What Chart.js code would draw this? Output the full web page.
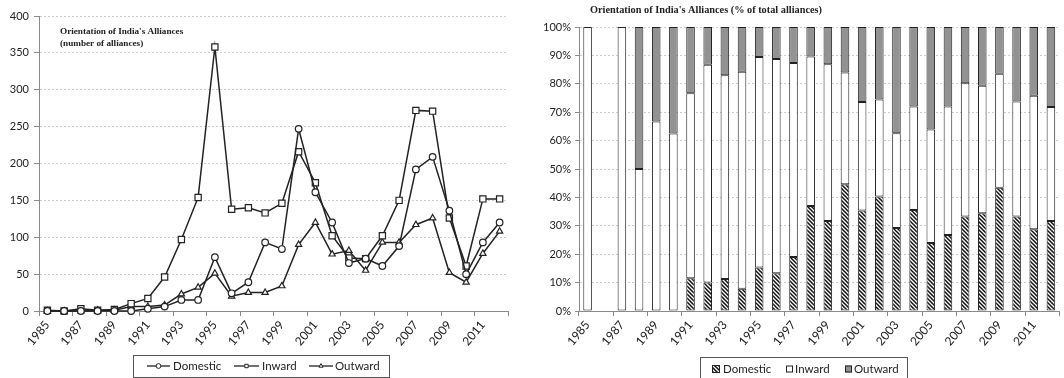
<!DOCTYPE html>
<html>
<head>
<meta charset="utf-8">
<script src="https://cdn.jsdelivr.net/npm/chart.js@4/dist/chart.umd.min.js"></script>
<style>
  html, body { margin: 0; padding: 0; background: #fff; }
  #wrap { position: relative; width: 1064px; height: 378px; overflow: hidden; }
  #c1 { position: absolute; left: 0; top: 0; }
  #c2 { position: absolute; left: 525px; top: 0; }
</style>
</head>
<body>
<div id="wrap">
  <canvas id="c1" width="520" height="378"></canvas>
  <canvas id="c2" width="539" height="378"></canvas>
</div>
<script>
// ---- data ----
const years = ['1985','1986','1987','1988','1989','1990','1991','1992','1993','1994',
               '1995','1996','1997','1998','1999','2000','2001','2002','2003','2004',
               '2005','2006','2007','2008','2009','2010','2011','2012'];

// number of alliances per year
const domestic = [0, 0, 0, 0, 0, 0, 3, 6, 15, 15, 73, 24, 39, 93, 84, 247, 161, 120, 65, 71, 61, 88, 192, 209, 136, 50, 93, 120];
const inward   = [1, 0, 3, 1, 2, 10, 17, 46, 97, 154, 358, 138, 140, 133, 146, 216, 174, 102, 72, 71, 102, 150, 272, 271, 126, 61, 152, 152];
const outward  = [0, 0, 0, 1, 1, 6, 6, 8, 23, 32, 51, 20, 25, 25, 34, 90, 120, 77, 82, 55, 93, 93, 117, 126, 52, 39, 78, 108];

// share of total alliances per year (%)
const domesticPct = [0, null, 0, 0, 0, 0, 11.5, 10.0, 11.3, 7.8, 15.3, 13.3, 19.0, 37.0, 31.7, 44.6, 35.4, 40.3, 29.2, 35.6, 23.9, 26.8, 33.3, 34.4, 43.4, 33.3, 28.8, 31.7];
const inwardPct   = [100, null, 100, 50, 66.7, 62.5, 65.2, 76.7, 71.7, 76.4, 74.1, 75.4, 68.3, 52.6, 55.2, 39.4, 38.2, 34.2, 33.4, 36.4, 40.0, 45.2, 46.9, 44.9, 40.1, 40.5, 47.0, 40.1];
const outwardPct  = [0, null, 0, 50, 33.3, 37.5, 23.3, 13.3, 17.0, 15.8, 10.6, 11.3, 12.7, 10.4, 13.1, 16.0, 26.4, 25.5, 37.4, 28.0, 36.1, 28.0, 19.8, 20.7, 16.5, 26.2, 24.2, 28.2];

const countTicks = [0, 50, 100, 150, 200, 250, 300, 350, 400];
const pctTicks = [0, 10, 20, 30, 40, 50, 60, 70, 80, 90, 100];

// ---- styling helpers ----
const INK = '#222';
const AXIS = '#8a8a8a';
const GRID = '#cdcdcd';
const TICK_FONT = { family: 'Lato, "Liberation Sans", sans-serif', size: 11 };
const YEAR_FONT = { family: 'Lato, "Liberation Sans", sans-serif', size: 12 };
const TITLE_FONT = '"Liberation Serif", "DejaVu Serif", serif';

// tick marks only on every second category boundary
const everyOther = ctx => (ctx.type !== 'tick' || ctx.index % 2 === 0) ? AXIS : 'rgba(0,0,0,0)';
const oddLabel = (v, i) => (i % 2 === 0 ? years[i] : '');

function hatchPattern() {
  const s = 4;
  const p = document.createElement('canvas');
  p.width = s; p.height = s;
  const g = p.getContext('2d');
  g.fillStyle = '#fff';
  g.fillRect(0, 0, s, s);
  g.strokeStyle = '#111';
  g.lineWidth = 1.5;
  g.beginPath();
  g.moveTo(-1, -1); g.lineTo(s + 1, s + 1);
  g.moveTo(-1, s - 1); g.lineTo(1, s + 1);
  g.moveTo(s - 1, -1); g.lineTo(s + 1, 1);
  g.stroke();
  return g.createPattern(p, 'repeat');
}

// title text drawn inside the canvas
const titleText = {
  id: 'titleText',
  afterDraw(chart, args, opts) {
    const ctx = chart.ctx;
    ctx.save();
    ctx.fillStyle = INK;
    ctx.textBaseline = 'middle';
    ctx.textAlign = 'left';
    ctx.font = 'bold ' + opts.size + 'px ' + TITLE_FONT;
    opts.lines.forEach(l => ctx.fillText(l.text, l.x, l.y));
    ctx.restore();
  }
};

// legend inside a framed box
const boxedLegend = {
  id: 'boxedLegend',
  afterDraw(chart, args, opts) {
    const ctx = chart.ctx;
    const h = Chart.helpers;
    ctx.save();
    const b = opts.box;
    ctx.strokeStyle = '#555';
    ctx.lineWidth = 1;
    ctx.strokeRect(b.x + 0.5, b.y + 0.5, b.w, b.h);
    ctx.font = opts.fontSize + 'px ' + TICK_FONT.family;
    ctx.textBaseline = 'middle';
    ctx.textAlign = 'left';
    chart.data.datasets.forEach((ds, i) => {
      const it = opts.items[i];
      if (opts.kind === 'line') {
        ctx.strokeStyle = INK;
        ctx.lineWidth = 1.3;
        ctx.beginPath();
        ctx.moveTo(it.x1, opts.y); ctx.lineTo(it.x2, opts.y);
        ctx.stroke();
        ctx.fillStyle = '#fff';
        ctx.lineWidth = 1;
        h.drawPoint(ctx, { pointStyle: ds.pointStyle, radius: 2.4, rotation: 0, borderWidth: 1 }, (it.x1 + it.x2) / 2, opts.y);
      } else {
        ctx.fillStyle = ds.backgroundColor;
        ctx.fillRect(it.x1, opts.y - it.s / 2, it.s, it.s);
        ctx.strokeStyle = INK;
        ctx.lineWidth = 1;
        ctx.strokeRect(it.x1 + 0.5, opts.y - it.s / 2 + 0.5, it.s - 1, it.s - 1);
      }
      ctx.fillStyle = INK;
      ctx.fillText(ds.label, it.tx, opts.y + 0.5);
    });
    ctx.restore();
  }
};

Chart.defaults.font.family = TICK_FONT.family;
Chart.defaults.color = INK;

// ---- left: number of alliances ----
const lineStyle = (label, data, style, r) => ({
  label, data,
  borderColor: INK, borderWidth: 1.5, tension: 0,
  pointStyle: style, pointRadius: r, pointHoverRadius: r,
  pointBackgroundColor: '#fff', pointBorderColor: INK, pointBorderWidth: 1.2,
  clip: false
});

new Chart(document.getElementById('c1'), {
  type: 'line',
  data: {
    labels: years,
    datasets: [
      lineStyle('Domestic', domestic, 'circle', 3.3),
      lineStyle('Inward', inward, 'rect', 4.4),
      lineStyle('Outward', outward, 'triangle', 3.6)
    ]
  },
  options: {
    responsive: false,
    animation: false,
    layout: { padding: { left: 0, top: 16, right: 12, bottom: 0 } },
    plugins: {
      legend: { display: false },
      tooltip: { enabled: false },
      titleText: {
        size: 9.2,
        lines: [
          { text: "Orientation of India's Alliances", x: 60, y: 32 },
          { text: '(number of alliances)', x: 60, y: 43.5 }
        ]
      },
      boxedLegend: {
        kind: 'line',
        box: { x: 133, y: 355, w: 256, h: 22 },
        y: 366, fontSize: 11.5,
        items: [
          { x1: 147, x2: 170, tx: 173 },
          { x1: 234, x2: 259, tx: 262 },
          { x1: 309, x2: 333, tx: 335 }
        ]
      }
    },
    scales: {
      x: {
        type: 'category',
        offset: true,
        afterFit: s => { s.height = 67; },
        grid: { offset: true, drawOnChartArea: false, tickLength: 5, color: everyOther, tickColor: everyOther },
        border: { color: AXIS, width: 1 },
        ticks: { autoSkip: false, minRotation: 50, maxRotation: 50, padding: 2, font: YEAR_FONT, color: INK, callback: oddLabel }
      },
      y: {
        min: 0, max: 400,
        afterFit: s => { s.width = 39; },
        afterBuildTicks: s => { s.ticks = countTicks.map(v => ({ value: v })); },
        grid: { color: c => (c.tick && c.tick.value === 0 ? 'rgba(0,0,0,0)' : GRID), tickColor: AXIS, tickLength: 5, lineWidth: 1 },
        border: { color: AXIS, width: 1, dash: [2, 2] },
        ticks: { padding: 5, font: TICK_FONT, color: INK }
      }
    }
  },
  plugins: [titleText, boxedLegend]
});

// ---- right: share of total alliances ----
const hatch = hatchPattern();
const barStyle = (label, data, fill) => ({
  label, data, backgroundColor: fill, borderColor: INK, borderWidth: 1,
  borderSkipped: false, categoryPercentage: 1, barPercentage: 0.5
});

new Chart(document.getElementById('c2'), {
  type: 'bar',
  data: {
    labels: years,
    datasets: [
      barStyle('Domestic', domesticPct, hatch),
      barStyle('Inward', inwardPct, '#ffffff'),
      barStyle('Outward', outwardPct, '#929292')
    ]
  },
  options: {
    responsive: false,
    animation: false,
    layout: { padding: { left: 0, top: 27, right: 3, bottom: 0 } },
    plugins: {
      legend: { display: false },
      tooltip: { enabled: false },
      titleText: {
        size: 10.3,
        lines: [{ text: "Orientation of India's Alliances (% of total alliances)", x: 65, y: 10 }]
      },
      boxedLegend: {
        kind: 'box',
        box: { x: 175, y: 357, w: 207, h: 21 },
        y: 369, fontSize: 11.5,
        items: [
          { x1: 187, s: 8, tx: 198 },
          { x1: 261, s: 7, tx: 270 },
          { x1: 320, s: 7, tx: 329 }
        ]
      }
    },
    scales: {
      x: {
        stacked: true,
        offset: true,
        afterFit: s => { s.height = 67; },
        grid: { offset: true, drawOnChartArea: false, tickLength: 5, color: everyOther, tickColor: everyOther },
        border: { color: AXIS, width: 1 },
        ticks: { autoSkip: false, minRotation: 50, maxRotation: 50, padding: 2, font: YEAR_FONT, color: INK, callback: oddLabel }
      },
      y: {
        stacked: true,
        min: 0, max: 100,
        afterFit: s => { s.width = 54; },
        afterBuildTicks: s => { s.ticks = pctTicks.map(v => ({ value: v })); },
        grid: { color: c => (c.tick && c.tick.value === 0 ? 'rgba(0,0,0,0)' : GRID), tickColor: AXIS, tickLength: 4, lineWidth: 1 },
        border: { color: AXIS, width: 1, dash: [2, 2] },
        ticks: { padding: 4, font: TICK_FONT, color: INK, callback: v => v + '%' }
      }
    }
  },
  plugins: [titleText, boxedLegend]
});
</script>
</body>
</html>
